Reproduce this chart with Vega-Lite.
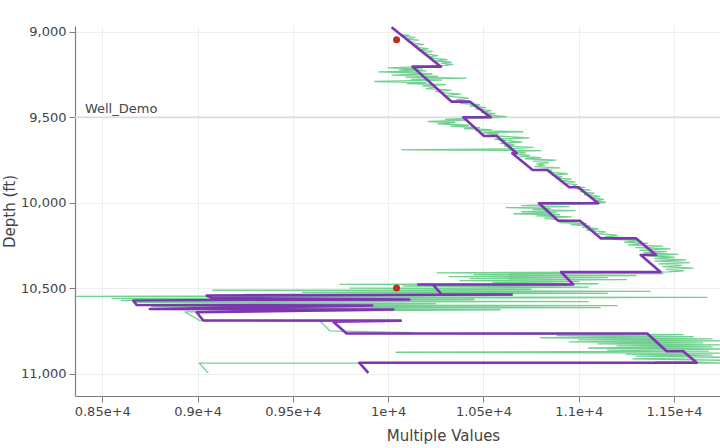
{
  "$schema": "https://vega.github.io/schema/vega-lite/v6.json",
  "autosize": {"type": "none"},
  "padding": {"left": 75, "top": 26, "right": 0, "bottom": 52},
  "width": 645,
  "height": 370,
  "background": "white",
  "config": {
    "view": {"stroke": null},
    "font": "DejaVu Sans",
    "axis": {
      "gridColor": "#eeeeee",
      "gridWidth": 1,
      "domainColor": "#7f7f7f",
      "domainWidth": 1.2,
      "tickColor": "#7f7f7f",
      "tickSize": 6,
      "labelFontSize": 13,
      "labelColor": "#444444",
      "labelPadding": 3,
      "labelFlush": false,
      "labelOverlap": false,
      "titleFontSize": 15,
      "titleFontWeight": "normal",
      "titleColor": "#444444"
    }
  },
  "datasets": {
    "green": [
      {"v":10060,"d":9015},{"v":10110,"d":9020},{"v":10070,"d":9025},{"v":10140,"d":9032},{"v":10090,"d":9040},{"v":10160,"d":9048},{"v":10105,"d":9056},{"v":10120,"d":9064},{"v":10185,"d":9072},{"v":10140,"d":9080},{"v":10150,"d":9090},{"v":10210,"d":9098},{"v":10160,"d":9106},{"v":10230,"d":9114},{"v":10185,"d":9122},{"v":10200,"d":9130},{"v":10260,"d":9138},{"v":10215,"d":9146},{"v":10240,"d":9154},{"v":10310,"d":9162},{"v":10250,"d":9170},{"v":10330,"d":9176},{"v":10280,"d":9184},{"v":10340,"d":9190},{"v":10300,"d":9196},
      {"v":10150,"d":9204},{"v":10000,"d":9210},{"v":10180,"d":9216},{"v":10060,"d":9222},{"v":10200,"d":9228},{"v":9950,"d":9234},{"v":10150,"d":9240},{"v":10230,"d":9246},{"v":10020,"d":9252},{"v":10260,"d":9258},{"v":10090,"d":9264},{"v":10410,"d":9270},{"v":10120,"d":9276},{"v":10280,"d":9282},{"v":9930,"d":9290},{"v":10200,"d":9296},{"v":10100,"d":9302},{"v":10300,"d":9308},{"v":10180,"d":9316},{"v":10250,"d":9324},{"v":10200,"d":9332},{"v":10330,"d":9340},{"v":10250,"d":9348},{"v":10300,"d":9356},{"v":10380,"d":9364},{"v":10290,"d":9372},{"v":10350,"d":9380},{"v":10420,"d":9388},{"v":10360,"d":9396},{"v":10400,"d":9404},
      {"v":10440,"d":9410},{"v":10380,"d":9418},{"v":10480,"d":9426},{"v":10430,"d":9434},{"v":10510,"d":9442},{"v":10460,"d":9450},{"v":10540,"d":9460},{"v":10490,"d":9470},{"v":10560,"d":9478},{"v":10510,"d":9486},{"v":10620,"d":9496},{"v":10530,"d":9502},
      {"v":10450,"d":9505},{"v":10300,"d":9512},{"v":10400,"d":9518},{"v":10210,"d":9524},{"v":10350,"d":9530},{"v":10260,"d":9538},{"v":10420,"d":9546},{"v":10330,"d":9552},{"v":10480,"d":9560},{"v":10400,"d":9566},{"v":10540,"d":9572},{"v":10460,"d":9578},{"v":10706,"d":9584},{"v":10500,"d":9590},{"v":10580,"d":9598},{"v":10520,"d":9606},{"v":10650,"d":9614},{"v":10739,"d":9620},{"v":10560,"d":9628},{"v":10620,"d":9636},{"v":10700,"d":9644},{"v":10590,"d":9652},{"v":10660,"d":9660},{"v":10610,"d":9668},{"v":10760,"d":9676},{"v":10640,"d":9684},{"v":10071,"d":9690},{"v":10802,"d":9694},{"v":10650,"d":9700},{"v":10720,"d":9708},
      {"v":10680,"d":9716},{"v":10740,"d":9722},{"v":10690,"d":9728},{"v":10800,"d":9736},{"v":10720,"d":9742},{"v":10880,"d":9750},{"v":10760,"d":9756},{"v":10840,"d":9764},{"v":10780,"d":9772},{"v":10820,"d":9780},{"v":10770,"d":9788},{"v":10900,"d":9796},{"v":10800,"d":9804},{"v":10860,"d":9812},{"v":10840,"d":9820},{"v":10940,"d":9830},{"v":10860,"d":9838},{"v":10910,"d":9846},{"v":10880,"d":9854},{"v":10960,"d":9862},{"v":10900,"d":9870},{"v":10980,"d":9878},{"v":10920,"d":9886},{"v":10990,"d":9894},{"v":10970,"d":9902},{"v":11030,"d":9910},{"v":10990,"d":9918},{"v":11060,"d":9926},{"v":11010,"d":9934},{"v":11080,"d":9944},{"v":11030,"d":9952},{"v":11110,"d":9962},{"v":11060,"d":9970},{"v":11130,"d":9980},{"v":11080,"d":9988},{"v":11140,"d":9996},{"v":11100,"d":10004},
      {"v":10900,"d":10010},{"v":10700,"d":10016},{"v":10950,"d":10022},{"v":10620,"d":10028},{"v":10850,"d":10034},{"v":10760,"d":10040},{"v":10980,"d":10046},{"v":10700,"d":10052},{"v":10880,"d":10058},{"v":10660,"d":10064},{"v":10900,"d":10070},{"v":10780,"d":10076},{"v":10960,"d":10082},{"v":10820,"d":10090},{"v":10880,"d":10098},{"v":10950,"d":10104},
      {"v":11000,"d":10110},{"v":10900,"d":10116},{"v":11040,"d":10122},{"v":10960,"d":10128},{"v":11060,"d":10136},{"v":11020,"d":10144},{"v":11100,"d":10152},{"v":11040,"d":10160},{"v":11140,"d":10170},{"v":11100,"d":10180},{"v":11200,"d":10190},{"v":11140,"d":10198},{"v":11280,"d":10206},{"v":11180,"d":10214},{"v":11320,"d":10222},{"v":11240,"d":10230},{"v":11360,"d":10238},{"v":11260,"d":10246},{"v":11440,"d":10254},{"v":11300,"d":10262},{"v":11480,"d":10270},{"v":11320,"d":10278},{"v":11460,"d":10286},{"v":11340,"d":10294},{"v":11520,"d":10302},{"v":11360,"d":10310},{"v":11500,"d":10318},{"v":11400,"d":10326},{"v":11560,"d":10334},{"v":11400,"d":10342},{"v":11580,"d":10350},{"v":11420,"d":10358},{"v":11540,"d":10366},{"v":11440,"d":10374},{"v":11600,"d":10382},{"v":11460,"d":10390},{"v":11550,"d":10398},{"v":11470,"d":10404},
      {"v":10256,"d":10410},{"v":11442,"d":10414},{"v":10450,"d":10420},{"v":11300,"d":10426},{"v":10320,"d":10432},{"v":11150,"d":10438},{"v":10429,"d":10444},{"v":11250,"d":10450},{"v":10377,"d":10456},{"v":11000,"d":10462},{"v":10550,"d":10468},{"v":11100,"d":10474},{"v":9747,"d":10478},{"v":10950,"d":10482},{"v":10080,"d":10488},{"v":11050,"d":10494},{"v":9800,"d":10500},{"v":10750,"d":10506},{"v":9081,"d":10512},{"v":11374,"d":10518},{"v":9550,"d":10524},{"v":11150,"d":10530},{"v":9250,"d":10536},{"v":10650,"d":10542},{"v":8366,"d":10548},{"v":11672,"d":10554},{"v":8551,"d":10560},{"v":10450,"d":10566},{"v":8600,"d":10572},{"v":11050,"d":10578},{"v":8661,"d":10584},{"v":10250,"d":10590},{"v":8720,"d":10596},{"v":11201,"d":10602},{"v":8760,"d":10608},{"v":11112,"d":10614},{"v":8800,"d":10620},{"v":10587,"d":10626},{"v":8934,"d":10639},{"v":9013,"d":10690},{"v":9642,"d":10692},{"v":9695,"d":10750},{"v":10130,"d":10760},{"v":9800,"d":10764},
      {"v":10718,"d":10768},{"v":11547,"d":10772},{"v":10886,"d":10778},{"v":11600,"d":10784},{"v":10800,"d":10790},{"v":11700,"d":10796},{"v":11000,"d":10802},{"v":11760,"d":10808},{"v":10950,"d":10814},{"v":11650,"d":10820},{"v":11100,"d":10826},{"v":11760,"d":10832},{"v":11200,"d":10838},{"v":11700,"d":10844},{"v":11050,"d":10850},{"v":11760,"d":10856},{"v":11150,"d":10862},{"v":11680,"d":10868},{"v":10041,"d":10875},{"v":11760,"d":10880},{"v":11250,"d":10886},{"v":11700,"d":10892},{"v":11300,"d":10898},{"v":11760,"d":10904},{"v":11284,"d":10914},{"v":11760,"d":10922},{"v":11400,"d":10930},{"v":11760,"d":10938},{"v":9009,"d":10938},{"v":9056,"d":10997}
    ],
    "purple": [
      {"v":10018,"d":8972},{"v":10277,"d":9203},{"v":10128,"d":9203},{"v":10333,"d":9408},{"v":10429,"d":9408},{"v":10538,"d":9499},{"v":10394,"d":9499},{"v":10503,"d":9609},{"v":10569,"d":9609},{"v":10674,"d":9710},{"v":10651,"d":9710},{"v":10758,"d":9808},{"v":10835,"d":9808},{"v":10950,"d":9909},{"v":10997,"d":9909},{"v":11102,"d":10003},{"v":10791,"d":10003},{"v":10892,"d":10105},{"v":11006,"d":10105},{"v":11115,"d":10208},{"v":11300,"d":10208},{"v":11405,"d":10306},{"v":11325,"d":10306},{"v":11429,"d":10405},{"v":10907,"d":10405},{"v":10971,"d":10478},{"v":10158,"d":10478},{"v":10234,"d":10478},{"v":10281,"d":10537},{"v":10648,"d":10537},{"v":9048,"d":10543},{"v":9074,"d":10557},{"v":10111,"d":10566},{"v":8663,"d":10572},{"v":8680,"d":10598},{"v":9917,"d":10601},{"v":8750,"d":10622},{"v":10027,"d":10625},{"v":8995,"d":10641},{"v":9030,"d":10689},{"v":10066,"d":10690},{"v":9712,"d":10696},{"v":9782,"d":10765},{"v":11359,"d":10765},{"v":11461,"d":10869},{"v":11548,"d":10869},{"v":11619,"d":10936},{"v":9848,"d":10936},{"v":9896,"d":10995}
    ],
    "marker": [
      {"v":10044,"d":9046},{"v":10044,"d":10499}
    ],
    "well": [
      {"v":8409,"d":9500,"label":"Well_Demo"}
    ]
  },
  "layer": [
    {
      "data": {"name": "well"},
      "mark": {"type": "rule", "color": "#dcdcdc", "strokeWidth": 1.6},
      "encoding": {
        "y": {"field": "d", "type": "quantitative", "title": "Depth (ft)",
              "scale": {"domain": [8965, 11131], "reverse": true, "nice": false, "zero": false},
              "axis": {"values": [9000, 9500, 10000, 10500, 11000], "format": ",d", "titlePadding": 3}}
      }
    },
    {
      "data": {"name": "green"},
      "mark": {"type": "line", "color": "#72d191", "strokeWidth": 1.3, "strokeJoin": "round", "clip": true},
      "encoding": {
        "x": {"field": "v", "type": "quantitative", "title": "Multiple Values",
              "scale": {"domain": [8357, 11741], "nice": false, "zero": false},
              "axis": {"values": [8500, 9000, 9500, 10000, 10500, 11000, 11500], "labelExpr": "(datum.value / 10000) + 'e+4'", "titlePadding": 10, "titleX": 368}},
        "y": {"field": "d", "type": "quantitative", "title": "Depth (ft)",
              "scale": {"domain": [8965, 11131], "reverse": true, "nice": false, "zero": false},
              "axis": {"values": [9000, 9500, 10000, 10500, 11000], "format": ",d", "titlePadding": 3}},
        "order": {"value": null}
      }
    },
    {
      "data": {"name": "purple"},
      "mark": {"type": "line", "color": "#7f35b2", "strokeWidth": 2.6, "strokeJoin": "round", "clip": true},
      "encoding": {
        "x": {"field": "v", "type": "quantitative", "title": "Multiple Values",
              "scale": {"domain": [8357, 11741], "nice": false, "zero": false},
              "axis": {"values": [8500, 9000, 9500, 10000, 10500, 11000, 11500], "labelExpr": "(datum.value / 10000) + 'e+4'", "titlePadding": 10, "titleX": 368}},
        "y": {"field": "d", "type": "quantitative", "title": "Depth (ft)",
              "scale": {"domain": [8965, 11131], "reverse": true, "nice": false, "zero": false},
              "axis": {"values": [9000, 9500, 10000, 10500, 11000], "format": ",d", "titlePadding": 3}},
        "order": {"value": null}
      }
    },
    {
      "data": {"name": "marker"},
      "mark": {"type": "circle", "color": "#b8321f", "size": 50, "opacity": 1},
      "encoding": {
        "x": {"field": "v", "type": "quantitative", "title": "Multiple Values",
              "scale": {"domain": [8357, 11741], "nice": false, "zero": false}},
        "y": {"field": "d", "type": "quantitative", "title": "Depth (ft)",
              "scale": {"domain": [8965, 11131], "reverse": true, "nice": false, "zero": false}}
      }
    },
    {
      "data": {"name": "well"},
      "mark": {"type": "text", "align": "left", "baseline": "middle", "dy": -8, "fontSize": 13, "color": "#444444"},
      "encoding": {
        "x": {"field": "v", "type": "quantitative", "title": "Multiple Values",
              "scale": {"domain": [8357, 11741], "nice": false, "zero": false}},
        "y": {"field": "d", "type": "quantitative", "title": "Depth (ft)",
              "scale": {"domain": [8965, 11131], "reverse": true, "nice": false, "zero": false}},
        "text": {"field": "label"}
      }
    }
  ]
}
